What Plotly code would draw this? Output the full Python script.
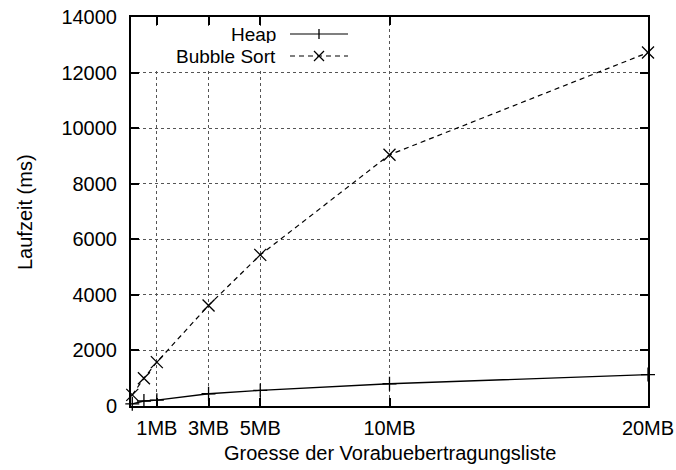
import plotly.graph_objects as go

# ---- data ----
sizes_mb = [0.05, 0.5, 1, 3, 5, 10, 20]
heap_ms = [80, 180, 210, 440, 560, 800, 1130]
bubble_ms = [400, 1000, 1580, 3620, 5440, 9040, 12720]

x_tickvals = [1, 3, 5, 10, 20]
x_ticktext = ["1MB", "3MB", "5MB", "10MB", "20MB"]
y_tickvals = [0, 2000, 4000, 6000, 8000, 10000, 12000, 14000]
y_ticktext = [str(v) for v in y_tickvals]

series_names = ["Heap", "Bubble Sort"]
x_title = "Groesse der Vorabuebertragungsliste"
y_title = "Laufzeit (ms)"

# ---- layout geometry ----
W, H = 676, 470
L, R, T, B = 131, 28, 17, 64
PW, PH = W - L - R, H - T - B
FONT = "Liberation Sans, Arial, Helvetica, sans-serif"
FS = 20
FS_LEG = 19


def px(xp):
    return (xp - L) / PW


def py(yp):
    return (H - B - yp) / PH


fig = go.Figure()
fig.add_trace(go.Scatter(
    x=sizes_mb, y=heap_ms, name=series_names[0], mode="lines+markers",
    line=dict(color="black", width=1.3),
    marker=dict(symbol="cross-thin", size=10, line=dict(color="black", width=1.3)),
    showlegend=False, cliponaxis=False))
fig.add_trace(go.Scatter(
    x=sizes_mb, y=bubble_ms, name=series_names[1], mode="lines+markers",
    line=dict(color="black", width=1.2, dash="5px,4px"),
    marker=dict(symbol="x-thin", size=12, line=dict(color="black", width=1.3)),
    showlegend=False, cliponaxis=False))

axis_common = dict(
    showline=True, linecolor="black", linewidth=2, mirror="allticks",
    ticks="inside", ticklen=8, tickwidth=1.5, tickcolor="black",
    showgrid=True, gridcolor="#555555", gridwidth=1, griddash="dot",
    zeroline=False, tickfont=dict(family=FONT, size=FS, color="black"),
)

fig.update_xaxes(range=[0, 20], tickvals=x_tickvals, ticktext=x_ticktext,
                 ticklabelstandoff=3, **axis_common)
fig.update_yaxes(range=[0, 14000], tickvals=y_tickvals, ticktext=y_ticktext,
                 ticklabelstandoff=8, **axis_common)

shapes = []
annotations = []
# white legend backdrop (covers grid lines under the key)
shapes.append(dict(type="rect", xref="paper", yref="paper",
                   x0=px(133), x1=px(356), y0=py(68), y1=py(26),
                   fillcolor="white", line=dict(width=0), layer="above"))

legend_rows = [(series_names[0], 34.0, None, "plus"),
               (series_names[1], 56.0, "5px,4px", "x")]
for name, yc, dash, mk in legend_rows:
    annotations.append(dict(text=name, xref="paper", yref="paper",
                            x=px(277), y=py(yc), xanchor="right", yanchor="middle",
                            height=18, borderpad=0, valign="middle",
                            showarrow=False, font=dict(family=FONT, size=FS_LEG, color="black")))
    ln = dict(color="black", width=1.2)
    if dash:
        ln["dash"] = dash
    shapes.append(dict(type="line", xref="paper", yref="paper",
                       x0=px(290), x1=px(348), y0=py(yc), y1=py(yc), line=ln, layer="above"))
    cx = 319
    if mk == "plus":
        shapes.append(dict(type="line", xref="paper", yref="paper",
                           x0=px(cx), x1=px(cx), y0=py(yc - 5), y1=py(yc + 5),
                           line=dict(color="black", width=1.3), layer="above"))
    else:
        shapes.append(dict(type="line", xref="paper", yref="paper",
                           x0=px(cx - 5), x1=px(cx + 5), y0=py(yc - 5), y1=py(yc + 5),
                           line=dict(color="black", width=1.3), layer="above"))
        shapes.append(dict(type="line", xref="paper", yref="paper",
                           x0=px(cx - 5), x1=px(cx + 5), y0=py(yc + 5), y1=py(yc - 5),
                           line=dict(color="black", width=1.3), layer="above"))

# axis titles
annotations.append(dict(text=x_title, xref="paper", yref="paper",
                        x=0.5, y=py(453), xanchor="center", yanchor="middle",
                        showarrow=False, font=dict(family=FONT, size=FS, color="black")))
annotations.append(dict(text=y_title, xref="paper", yref="paper",
                        x=px(25), y=py(212), xanchor="center", yanchor="middle",
                        textangle=-90, showarrow=False,
                        font=dict(family=FONT, size=FS, color="black")))

fig.update_layout(
    width=W, height=H,
    margin=dict(l=L, r=R, t=T, b=B, autoexpand=False),
    paper_bgcolor="white", plot_bgcolor="white",
    font=dict(family=FONT, size=FS, color="black"),
    shapes=shapes, annotations=annotations, showlegend=False,
)

fig.write_html("out.html")
